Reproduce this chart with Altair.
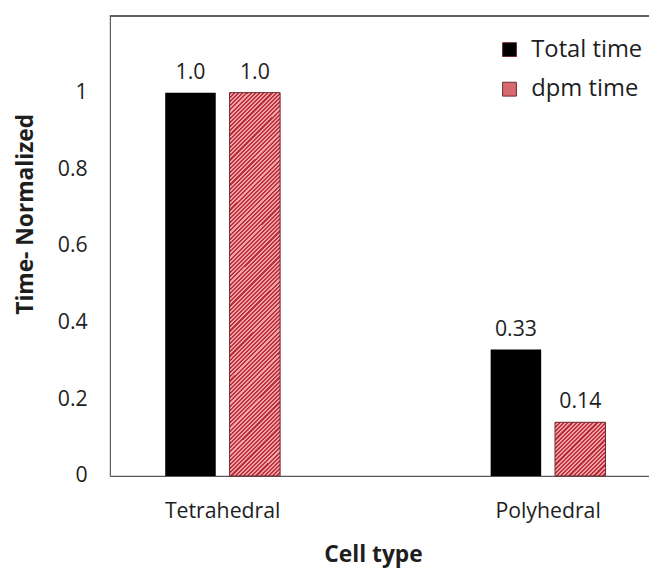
import altair as alt
import pandas as pd

# ---- data ----
cell_types = ["Tetrahedral", "Polyhedral"]
series_names = ["Total time", "dpm time"]
total_time = [1.0, 0.33]
dpm_time = [1.0, 0.14]
total_labels = ["1.0", "0.33"]
dpm_labels = ["1.0", "0.14"]
y_ticks = [0, 0.2, 0.4, 0.6, 0.8, 1.0]

rows = []
for i, c in enumerate(cell_types):
    rows.append({"cell": c, "series": series_names[0], "value": total_time[i], "label": total_labels[i]})
    rows.append({"cell": c, "series": series_names[1], "value": dpm_time[i], "label": dpm_labels[i]})
df = pd.DataFrame(rows)

# ---- layout constants ----
W, H = 545, 465
Y_MAX = 1.2
BAR_W = 51.0
FONT = "Open Sans"
TXT = "#1e1e1e"
AXIS_C = "#595959"

DARK = "#bd313c"
LIGHT = "#efa3a6"
EDGE = "#6e2a30"


def hatch(w, h, period=4.2):
    """diagonal '/' stripe gradient for a box w x h (pixels)"""
    k = (w + h) / (w * w + h * h)
    n = int(round((w + h) / period))
    stops = []
    for i in range(n):
        a, m, b = i / n, (i + 0.5) / n, (i + 1) / n
        stops += [
            {"offset": a, "color": DARK},
            {"offset": m, "color": DARK},
            {"offset": m, "color": LIGHT},
            {"offset": b, "color": LIGHT},
        ]
    return {"gradient": "linear", "x1": 0, "y1": 0, "x2": w * k, "y2": h * k, "stops": stops}


x_enc = alt.X(
    "cell:N",
    sort=cell_types,
    scale=alt.Scale(paddingInner=0.647, paddingOuter=0.1518, align=0.56),
    axis=alt.Axis(
        title="Cell type",
        labelAngle=0,
        ticks=False,
        domainColor=AXIS_C,
        domainWidth=1.2,
        labelFont=FONT,
        labelFontSize=21.5,
        labelColor=TXT,
        labelPadding=25,
        titleFont=FONT,
        titleFontSize=23,
        titleFontWeight="bold",
        titleColor=TXT,
        titleX=266,
        titleY=86,
        titleBaseline="alphabetic",
    ),
)
xoff_enc = alt.XOffset(
    "series:N",
    sort=series_names,
    scale=alt.Scale(domain=series_names, paddingInner=0.215, paddingOuter=0),
)
y_enc = alt.Y(
    "value:Q",
    scale=alt.Scale(domain=[0, Y_MAX], nice=False),
    axis=alt.Axis(
        title="Time- Normalized",
        values=y_ticks,
        format="~g",
        grid=False,
        ticks=False,
        domainColor=AXIS_C,
        domainWidth=1.2,
        labelFont=FONT,
        labelFontSize=21.5,
        labelColor=TXT,
        labelPadding=23,
        titleFont=FONT,
        titleFontSize=23,
        titleFontWeight="bold",
        titleColor=TXT,
        titleX=-85,
        titleY=200,
        titleBaseline="middle",
        titleAlign="center",
    ),
)

base = alt.Chart(df)

bars = base.mark_bar(strokeWidth=1).encode(
    x=x_enc,
    xOffset=xoff_enc,
    y=y_enc,
    color=alt.Color(
        "series:N",
        sort=series_names,
        scale=alt.Scale(domain=series_names, range=["#000000", "#d66a70"]),
        legend=alt.Legend(
            title=None,
            orient="none",
            legendX=392,
            legendY=22,
            padding=0,
            symbolType="square",
            symbolSize=196,
            symbolStrokeColor=EDGE,
            symbolStrokeWidth=1,
            labelFont=FONT,
            labelFontSize=24,
            labelColor=TXT,
            labelOffset=10,
            rowPadding=16,
        ),
    ),
)

hatch_layers = []
for i, c in enumerate(cell_types):
    h_px = dpm_time[i] / Y_MAX * H
    hatch_layers.append(
        base.transform_filter(
            (alt.datum.cell == c) & (alt.datum.series == series_names[1])
        )
        .mark_bar(fill=hatch(BAR_W, h_px), stroke=EDGE, strokeWidth=1)
        .encode(x=x_enc, xOffset=xoff_enc, y=y_enc)
    )

labels = base.mark_text(
    font=FONT, fontSize=21.5, color=TXT, dy=-14, baseline="alphabetic"
).encode(x=x_enc, xOffset=xoff_enc, y=y_enc, text="label:N")

frame_top = base.mark_rule(color=AXIS_C, strokeWidth=1.2).encode(
    x=alt.value(0), x2=alt.value(W), y=alt.value(0)
)

chart = (
    alt.layer(bars, *hatch_layers, labels, frame_top)
    .properties(
        width=W,
        height=H,
        autosize=alt.AutoSizeParams(type="none"),
        padding={"left": 103, "top": 5, "right": 0, "bottom": 90},
        background="white",
    )
    .configure_view(stroke=None)
)

chart.save("out.html", embed_options={"renderer": "svg", "actions": False})
